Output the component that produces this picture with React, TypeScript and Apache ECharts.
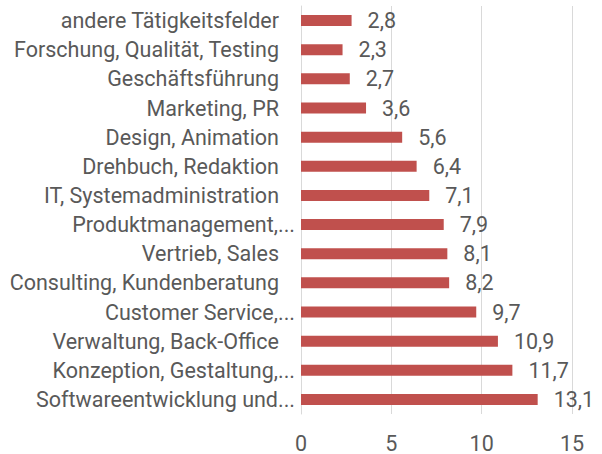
import React, { useEffect, useRef } from "react";
import * as echarts from "echarts";

const categories = [
  "andere Tätigkeitsfelder",
  "Forschung, Qualität, Testing",
  "Geschäftsführung",
  "Marketing, PR",
  "Design, Animation",
  "Drehbuch, Redaktion",
  "IT, Systemadministration",
  "Produktmanagement,...",
  "Vertrieb, Sales",
  "Consulting, Kundenberatung",
  "Customer Service,...",
  "Verwaltung, Back-Office",
  "Konzeption, Gestaltung,...",
  "Softwareentwicklung und...",
];

const values = [2.8, 2.3, 2.7, 3.6, 5.6, 6.4, 7.1, 7.9, 8.1, 8.2, 9.7, 10.9, 11.7, 13.1];

const axisMin = 0;
const axisMax = 15;
const axisInterval = 5;

export default function App() {
  const ref = useRef<HTMLDivElement>(null);

  useEffect(() => {
    if (!ref.current) return;
    const chart = echarts.init(ref.current, undefined, { renderer: "svg" });
    const font = "Roboto";
    const textColor = "#595959";
    const fs = 21.5;
    chart.setOption({
      animation: false,
      backgroundColor: "#ffffff",
      grid: { left: 301, right: 30, top: 6, bottom: 38, containLabel: false },
      xAxis: {
        type: "value",
        min: axisMin,
        max: axisMax,
        interval: axisInterval,
        axisLine: { show: false },
        axisTick: { show: false },
        splitLine: { show: true, lineStyle: { color: "#D9D9D9", width: 1 } },
        axisLabel: {
          color: textColor,
          fontFamily: font,
          fontSize: fs,
          margin: 18,
        },
      },
      yAxis: {
        type: "category",
        inverse: true,
        data: categories,
        axisLine: { show: true, lineStyle: { color: "#D9D9D9", width: 1 } },
        axisTick: { show: false },
        axisLabel: {
          color: textColor,
          fontFamily: font,
          fontSize: fs,
          margin: 6,
          formatter: (v: string) => (v.endsWith("...") ? v : v + "{s|}"),
          rich: { s: { width: 16 } },
        },
      },
      series: [
        {
          type: "bar",
          data: values,
          barWidth: 11,
          itemStyle: { color: "#C0504D" },
          label: {
            show: true,
            position: "right",
            distance: 16,
            color: textColor,
            fontFamily: font,
            fontSize: fs,
            formatter: (p: any) => String(p.value).replace(".", ","),
          },
        },
      ],
    });
    return () => chart.dispose();
  }, []);

  return (
    <div
      ref={ref}
      style={{ position: "fixed", left: 0, top: 0, width: 602, height: 454 }}
    />
  );
}
